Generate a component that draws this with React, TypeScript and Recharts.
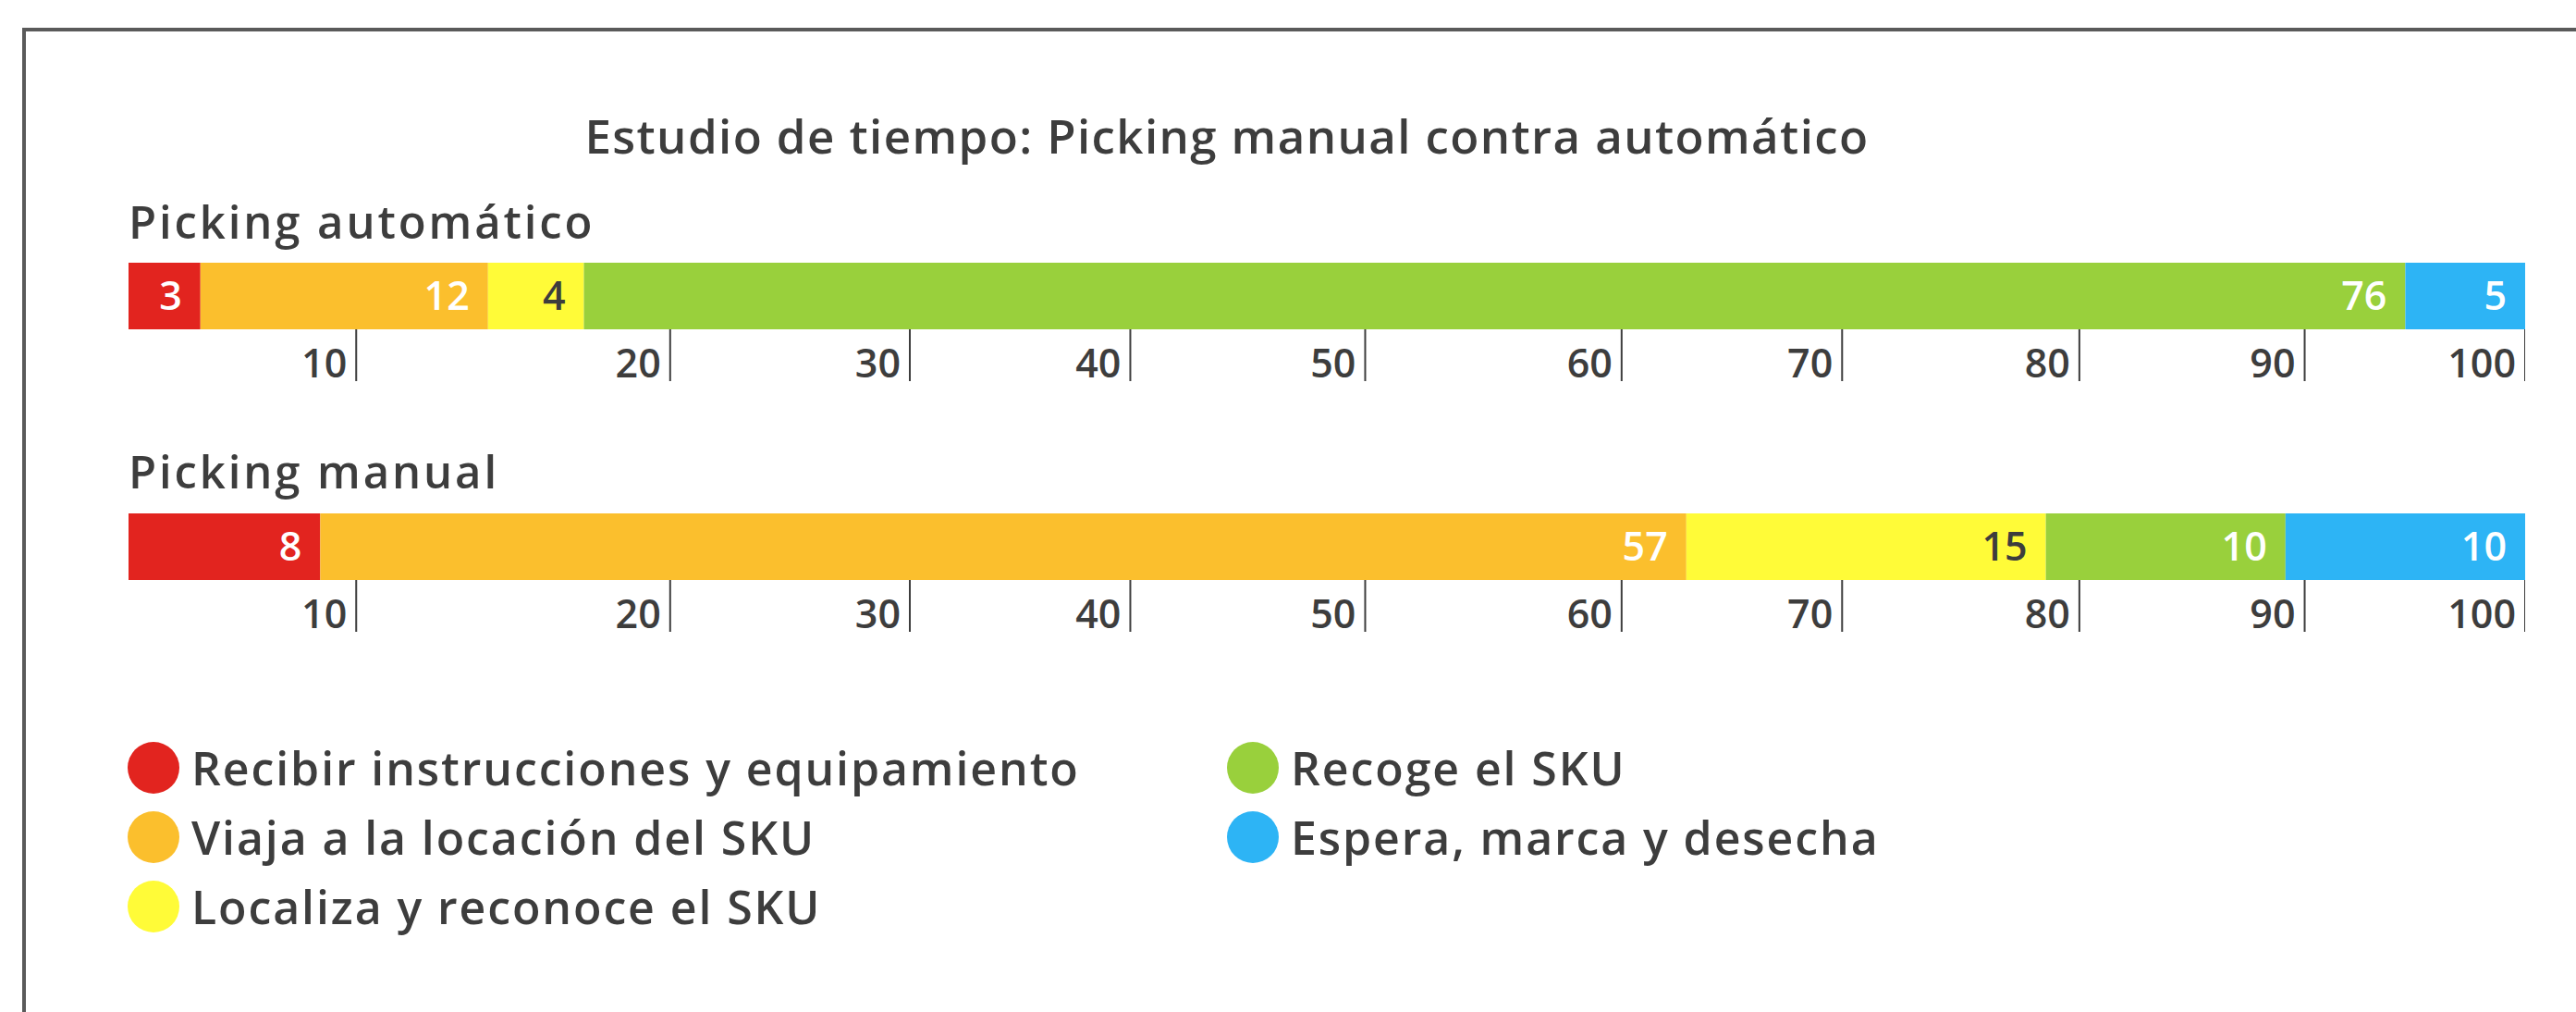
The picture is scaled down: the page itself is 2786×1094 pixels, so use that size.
import { BarChart, Bar, XAxis, YAxis, LabelList } from 'recharts'

const stepKeys = ['recibir', 'viaja', 'localiza', 'recoge', 'espera']
const stepNames = [
  'Recibir instrucciones y equipamiento',
  'Viaja a la locación del SKU',
  'Localiza y reconoce el SKU',
  'Recoge el SKU',
  'Espera, marca y desecha',
]
const automaticValues = [3, 12, 4, 76, 5]
const manualValues = [8, 57, 15, 10, 10]

// the printed scale is hand-placed, so labels sit at these data positions
const tickAt = [9.5, 22.6, 32.6, 41.8, 51.6, 62.3, 71.5, 81.4, 90.8, 100]
const tickLabels = ['10', '20', '30', '40', '50', '60', '70', '80', '90', '100']

const stepColors = ['#E2241F', '#FBBF2D', '#FFFB38', '#99D03C', '#2DB4F5']
const valueColors = ['#fff', '#fff', '#3d3d3d', '#fff', '#fff']

const INK = '#3d3d3d'
const FONT = '"Open Sans", sans-serif'

const toRow = (name: string, values: number[]) => {
  const row: Record<string, string | number> = { name }
  stepKeys.forEach((k, i) => (row[k] = values[i]))
  return [row]
}

function ScaleTick(props: any) {
  const { x, y, payload } = props
  const label = tickLabels[tickAt.indexOf(payload.value)]
  return (
    <g>
      <line x1={x} x2={x} y1={y} y2={y + 56} stroke={INK} strokeWidth={2} />
      <text x={x - 10} y={y + 52} textAnchor="end" fontSize={43} fontWeight={600} fontFamily={FONT} fill={INK}>
        {label}
      </text>
    </g>
  )
}

function TimeBar({ values }: { values: number[] }) {
  return (
    <BarChart
      width={2592}
      height={152}
      layout="vertical"
      data={toRow('row', values)}
      margin={{ top: 0, right: 0, bottom: 0, left: 0 }}
      barCategoryGap={0}
    >
      <XAxis
        type="number"
        domain={[0, 100]}
        ticks={tickAt}
        interval={0}
        axisLine={false}
        tickLine={false}
        tickSize={0}
        tickMargin={0}
        height={80}
        tick={<ScaleTick />}
      />
      <YAxis type="category" dataKey="name" hide />
      {stepKeys.map((k, i) => (
        <Bar key={k} dataKey={k} stackId="t" fill={stepColors[i]} isAnimationActive={false}>
          <LabelList
            dataKey={k}
            position="insideRight"
            offset={20}
            fill={valueColors[i]}
            style={{ fontSize: 43, fontWeight: 600, fontFamily: FONT }}
          />
        </Bar>
      ))}
    </BarChart>
  )
}

const text = (size: number, spacing: number): React.CSSProperties => ({
  position: 'absolute',
  fontFamily: FONT,
  fontWeight: 600,
  fontSize: size,
  lineHeight: `${size}px`,
  letterSpacing: spacing,
  color: INK,
  whiteSpace: 'nowrap',
  margin: 0,
})

function LegendItem({ i, left, top }: { i: number; left: number; top: number }) {
  return (
    <div style={{ position: 'absolute', left, top, height: 56 }}>
      <div
        style={{
          position: 'absolute',
          left: 0,
          top: 0,
          width: 56,
          height: 56,
          borderRadius: '50%',
          background: stepColors[i],
        }}
      />
      <div style={{ ...text(50, 1.9), left: 69, top: 3 }}>{stepNames[i]}</div>
    </div>
  )
}

export default function App() {
  return (
    <div
      style={{
        position: 'absolute',
        left: 0,
        top: 0,
        width: 2786,
        height: 1094,
        overflow: 'hidden',
        background: '#fff',
      }}
    >
      <div
        style={{
          position: 'absolute',
          left: 24,
          top: 30,
          width: 2900,
          height: 1200,
          border: '4px solid #5a5a5a',
        }}
      />
      <div style={{ ...text(51, 1.4), left: 0, width: 2654, textAlign: 'center', top: 121 }}>
        Estudio de tiempo: Picking manual contra automático
      </div>

      <div style={{ ...text(49, 2.9), left: 139, top: 215 }}>Picking automático</div>
      <div style={{ position: 'absolute', left: 139, top: 284 }}>
        <TimeBar values={automaticValues} />
      </div>

      <div style={{ ...text(49, 2.9), left: 139, top: 485 }}>Picking manual</div>
      <div style={{ position: 'absolute', left: 139, top: 555 }}>
        <TimeBar values={manualValues} />
      </div>

      <LegendItem i={0} left={138} top={802} />
      <LegendItem i={1} left={138} top={877} />
      <LegendItem i={2} left={138} top={952} />
      <LegendItem i={3} left={1327} top={802} />
      <LegendItem i={4} left={1327} top={877} />
    </div>
  )
}
